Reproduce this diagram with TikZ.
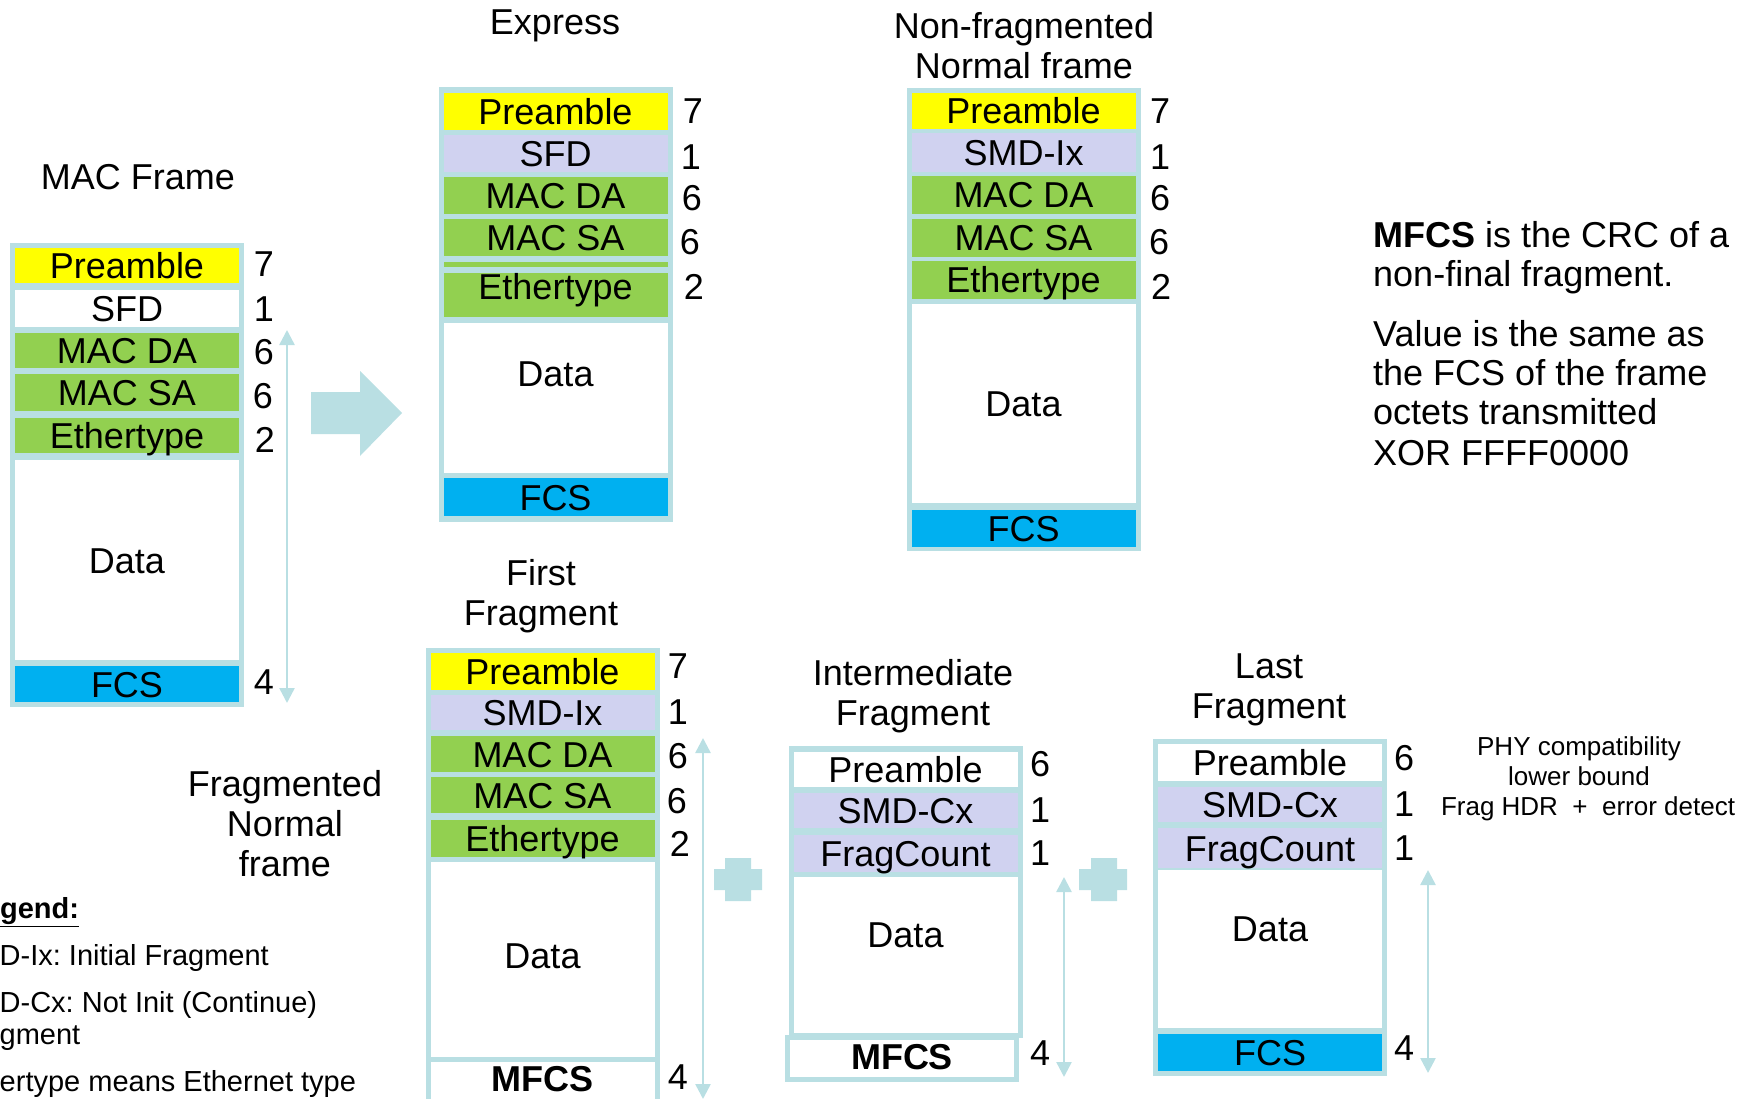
\documentclass[tikz,border=0pt]{standalone}
\usepackage{fontspec}
\setmainfont{Liberation Sans}
\usetikzlibrary{arrows.meta}
\definecolor{frameblue}{HTML}{B9DFE3}
\definecolor{preyellow}{HTML}{FFFF00}
\definecolor{macgreen}{HTML}{92D050}
\definecolor{smdlav}{HTML}{D0D2F0}
\definecolor{fcsblue}{HTML}{00B0F0}
\newcommand\bigfont{\fontsize{36}{40}\selectfont}
\newcommand\midfont{\fontsize{29}{33}\selectfont}
\newcommand\smallfont{\fontsize{26}{30}\selectfont}
\frenchspacing

\begin{document}
\begin{tikzpicture}[x=1pt, y=-1pt,
  cen/.style={inner sep=0pt, text height=26pt, text depth=0pt, font=\bigfont},
  frm/.style={fill=frameblue, inner sep=0pt, minimum width=234},
  cell/.style={cen, minimum width=224},
  lgd/.style={inner sep=0pt, text height=21pt, text depth=0pt, font=\midfont, anchor=west},
  phynote/.style={inner sep=0pt, text height=19pt, text depth=0pt, font=\smallfont},
  lenarrow/.style={draw=frameblue, line width=2.5pt, {Triangle[length=15pt,width=15pt]}-{Triangle[length=15pt,width=15pt]}}]
\useasboundingbox (0,0) rectangle (1756,1099);
\clip (0,0) rectangle (1756,1099);

\node[cen] (tMac) at (138,177) {MAC Frame};
\node[frm, minimum height=464] (mac) at (127,475) {};
\node[cell, fill=preyellow, minimum height=35] (macPre) at (127,265.5) {Preamble};
\node[cell, fill=white, minimum height=37] (macSFD) at (127,308.5) {SFD};
\node[cell, fill=macgreen, minimum height=35] (macDA) at (127,350.5) {MAC DA};
\node[cell, fill=macgreen, minimum height=37] (macSA) at (127,392.5) {MAC SA};
\node[cell, fill=macgreen, minimum height=35] (macEth) at (127,435.5) {Ethertype};
\node[cell, fill=white, minimum height=200] (macData) at (127,560) {Data};
\node[cell, fill=fcsblue, minimum height=36] (macFCS) at (127,684) {FCS};
\node[cen] (macN1) at (264,264) {7};
\node[cen] (macN2) at (264,309) {1};
\node[cen] (macN3) at (264,351) {6};
\node[cen] (macN4) at (263,395) {6};
\node[cen] (macN5) at (265,439) {2};
\node[cen] (macN6) at (264,681) {4};
\coordinate (macTop) at (287,330);
\coordinate (macBot) at (287,703);
\draw[lenarrow] (macTop) -- (macBot);

\fill[frameblue] (311,392) -- (360,392) -- (360,371) -- (402,413) -- (360,456) -- (360,434) -- (311,434) -- cycle;

\node[cen] (tExp) at (555,22) {Express};
\node[frm, minimum height=435] (exp) at (555.5,304.5) {};
\node[cell, fill=preyellow, minimum height=37] (expPre) at (555.5,111.5) {Preamble};
\node[cell, fill=smdlav, minimum height=37] (expSFD) at (555.5,153.5) {SFD};
\node[cell, fill=macgreen, minimum height=37] (expDA) at (555.5,195.5) {MAC DA};
\node[cell, fill=macgreen, minimum height=37] (expSA) at (555.5,237.5) {MAC SA};
\node[cell, fill=macgreen, text height=0pt, minimum height=5] (expStrip) at (555.5,264.5) {};
\node[cell, fill=macgreen, minimum height=44, text depth=16pt] (expEth) at (555.5,295) {Ethertype};
\node[cell, fill=white, minimum height=150, text depth=50pt] (expData) at (555.5,398) {Data};
\node[cell, fill=fcsblue, minimum height=38] (expFCS) at (555.5,497) {FCS};
\node[cen] (expN1) at (693,111) {7};
\node[cen] (expN2) at (691,157) {1};
\node[cen] (expN3) at (692,198) {6};
\node[cen] (expN4) at (690,242) {6};
\node[cen] (expN5) at (694,287) {2};

\node[cen] (tNf1) at (1024,26) {Non-fragmented};
\node[cen] (tNf2) at (1024,66) {Normal frame};
\node[frm, minimum height=463] (nf) at (1023.5,319.5) {};
\node[cell, fill=preyellow, minimum height=36] (nfPre) at (1023.5,111) {Preamble};
\node[cell, fill=smdlav, minimum height=39] (nfSMD) at (1023.5,152.5) {SMD-Ix};
\node[cell, fill=macgreen, minimum height=38] (nfDA) at (1023.5,195) {MAC DA};
\node[cell, fill=macgreen, minimum height=38] (nfSA) at (1023.5,238) {MAC SA};
\node[cell, fill=macgreen, minimum height=38] (nfEth) at (1023.5,280) {Ethertype};
\node[cell, fill=white, minimum height=199] (nfData) at (1023.5,403.5) {Data};
\node[cell, fill=fcsblue, minimum height=37] (nfFCS) at (1023.5,528.5) {FCS};
\node[cen] (nfN1) at (1160,111) {7};
\node[cen] (nfN2) at (1160,157) {1};
\node[cen] (nfN3) at (1160,198) {6};
\node[cen] (nfN4) at (1159,242) {6};
\node[cen] (nfN5) at (1161,287) {2};

\node[cen] (mfcsA) at (1373,235) [anchor=west] {\textbf{MFCS} is the CRC of a};
\node[cen] (mfcsB) at (1373,274) [anchor=west] {non-final fragment.};
\node[cen] (valA) at (1373,333) [anchor=west] {Value is the same as};
\node[cen] (valB) at (1373,372) [anchor=west] {the FCS of the frame};
\node[cen] (valC) at (1373,411) [anchor=west] {octets transmitted};
\node[cen] (valD) at (1373,452) [anchor=west] {XOR FFFF0000};

\node[cen] (tFn1) at (285,783) {Fragmented};
\node[cen] (tFn2) at (285,823) {Normal};
\node[cen] (tFn3) at (285,863) {frame};

\node[lgd] (lgHead) at (-34,908) {\underline{\textbf{Legend:}}};
\node[lgd] (lgIx) at (-44,955) {SMD-Ix: Initial Fragment};
\node[lgd] (lgCx) at (-44,1002) {SMD-Cx: Not Init (Continue)};
\node[lgd] (lgCxB) at (-44,1034) {Fragment};
\node[lgd] (lgEth) at (-44,1081) {Ethertype means Ethernet type};

\node[cen] (tFf1) at (541,572) {First};
\node[cen] (tFf2) at (541,612) {Fragment};
\node[frm, minimum height=467] (ff) at (542.5,881.5) {};
\node[cell, fill=preyellow, minimum height=37] (ffPre) at (542.5,671.5) {Preamble};
\node[cell, fill=smdlav, minimum height=35] (ffSMD) at (542.5,712.5) {SMD-Ix};
\node[cell, fill=macgreen, minimum height=36] (ffDA) at (542.5,754) {MAC DA};
\node[cell, fill=macgreen, minimum height=36] (ffSA) at (542.5,795) {MAC SA};
\node[cell, fill=macgreen, minimum height=37] (ffEth) at (542.5,838.5) {Ethertype};
\node[cell, fill=white, minimum height=195, text depth=9pt] (ffData) at (542.5,959.5) {Data};
\node[cell, fill=white, minimum height=46, text depth=14pt] (ffMFCS) at (542.5,1085) {\textbf{MFCS}};
\node[cen] (ffN1) at (678,665) {7};
\node[cen] (ffN2) at (678,711) {1};
\node[cen] (ffN3) at (678,755) {6};
\node[cen] (ffN4) at (677,800) {6};
\node[cen] (ffN5) at (680,843) {2};
\node[cen] (ffN6) at (678,1076) {4};
\coordinate (ffTop) at (703,738);
\coordinate (ffBot) at (703,1099);
\draw[lenarrow] (ffTop) -- (ffBot);

\fill[frameblue] (725,858) rectangle (751,901) (714,869) rectangle (762,890);

\node[cen] (tIf1) at (913,672) {Intermediate};
\node[cen] (tIf2) at (913,712) {Fragment};
\node[frm, minimum height=292] (if) at (905.5,892) {};
\node[cell, fill=white, minimum height=35] (ifPre) at (905.5,769.5) {Preamble};
\node[cell, fill=smdlav, minimum height=35] (ifSMD) at (905.5,810.5) {SMD-Cx};
\node[cell, fill=smdlav, minimum height=37] (ifCnt) at (905.5,853.5) {FragCount};
\node[cell, fill=white, minimum height=156, text depth=42pt] (ifData) at (905.5,955) {Data};
\node[frm, minimum height=47] (ifMbox) at (902,1058.5) {};
\node[cell, fill=white, minimum height=37, text depth=5pt] (ifMFCS) at (902,1058.5) {\textbf{MFCS}};
\node[cen] (ifN1) at (1040,763) {6};
\node[cen] (ifN2) at (1040,809) {1};
\node[cen] (ifN3) at (1040,852) {1};
\node[cen] (ifN4) at (1040,1052) {4};
\coordinate (ifTop) at (1064,877);
\coordinate (ifBot) at (1064,1077);
\draw[lenarrow] (ifTop) -- (ifBot);

\fill[frameblue] (1091,858) rectangle (1117,901) (1079,869) rectangle (1127,890);

\node[cen] (tLf1) at (1269,665) {Last};
\node[cen] (tLf2) at (1269,705) {Fragment};
\node[frm, minimum height=337] (lf) at (1270,907.5) {};
\node[cell, fill=white, minimum height=37] (lfPre) at (1270,762.5) {Preamble};
\node[cell, fill=smdlav, minimum height=35] (lfSMD) at (1270,804.5) {SMD-Cx};
\node[cell, fill=smdlav, minimum height=40] (lfCnt) at (1270,848) {FragCount};
\node[cell, fill=white, minimum height=158, text depth=42pt] (lfData) at (1270,949) {Data};
\node[cell, fill=fcsblue, minimum height=37] (lfFCS) at (1270,1052.5) {FCS};
\node[cen] (lfN1) at (1404,757) {6};
\node[cen] (lfN2) at (1404,803) {1};
\node[cen] (lfN3) at (1404,847) {1};
\node[cen] (lfN4) at (1404,1047) {4};
\coordinate (lfTop) at (1428,870);
\coordinate (lfBot) at (1428,1073);
\draw[lenarrow] (lfTop) -- (lfBot);

\node[phynote] (phyA) at (1579,746) {PHY compatibility};
\node[phynote] (phyB) at (1579,776) {lower bound};
\node[phynote] (phyC) at (1588,806) {Frag HDR~~+~~error detect};
\end{tikzpicture}
\end{document}
